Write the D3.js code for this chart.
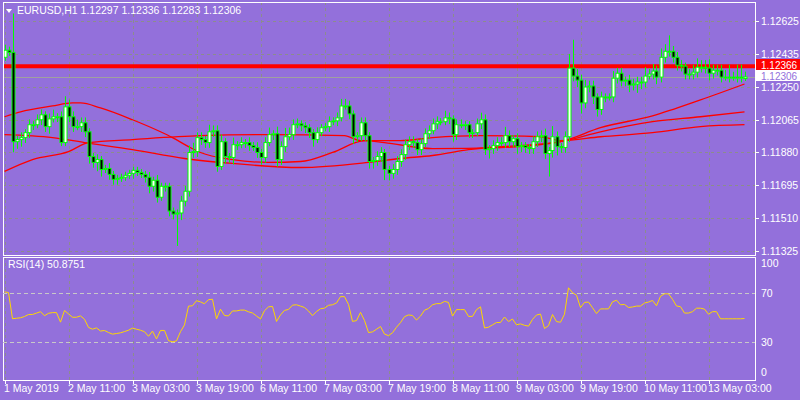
<!DOCTYPE html>
<html><head><meta charset="utf-8">
<script src="https://cdn.jsdelivr.net/npm/d3@7"></script>
<style>body{margin:0;background:#9370DB}svg{display:block}text{font-family:"Liberation Sans",Arial,sans-serif;font-size:10.5px;fill:#fff}</style>
</head><body><svg id="c" width="800" height="400"></svg>
<script>
const symbol = "EURUSD,H1";
const lastOHLC = [1.12297, 1.12336, 1.12283, 1.12306];
const firstOpen = 1.12417;
const closes = [
1.12457,1.12445,1.11940,1.11952,1.11963,1.11991,1.12036,1.12036,1.12064,1.12092,
1.12025,1.12069,1.12081,1.12081,1.11935,1.12137,1.12081,1.12025,1.12025,1.12047,
1.11996,1.11856,1.11823,1.11839,1.11783,1.11789,1.11755,1.11727,1.11733,1.11739,
1.11750,1.11761,1.11778,1.11766,1.11755,1.11739,1.11688,1.11722,1.11626,1.11688,
1.11688,1.11548,1.11531,1.11537,1.11604,1.11660,1.11879,1.11884,1.11963,1.11952,
1.11935,1.11996,1.12002,1.11800,1.11940,1.11856,1.11851,1.11923,1.11923,1.11935,
1.11935,1.11918,1.11907,1.11879,1.11851,1.11935,1.11980,1.11985,1.11839,1.11912,
1.11968,1.11980,1.12036,1.12041,1.12030,1.12019,1.11991,1.11952,1.11991,1.12019,
1.12025,1.12053,1.12058,1.12075,1.12142,1.12142,1.12097,1.11968,1.11974,1.12047,
1.11974,1.11828,1.11834,1.11856,1.11879,1.11783,1.11761,1.11783,1.11828,1.11867,
1.11923,1.11940,1.11935,1.11895,1.11929,1.11985,1.12002,1.12041,1.12053,1.12053,
1.12075,1.12069,1.11980,1.12036,1.12036,1.12036,1.11991,1.11991,1.12041,1.12064,
1.11895,1.11901,1.11918,1.11935,1.11935,1.11974,1.11940,1.11957,1.11912,1.11918,
1.11907,1.11901,1.11940,1.11968,1.11974,1.11873,1.11890,1.11968,1.11912,1.11907,
1.11968,1.12356,1.12311,1.12288,1.12159,1.12249,1.12255,1.12193,1.12122,1.12193,
1.12193,1.12193,1.12299,1.12327,1.12283,1.12288,1.12260,1.12266,1.12277,1.12277,
1.12311,1.12322,1.12339,1.12305,1.12417,1.12451,1.12451,1.12417,1.12372,1.12367,
1.12322,1.12322,1.12333,1.12361,1.12361,1.12356,1.12327,1.12344,1.12344,1.12305,
1.12305,1.12305,1.12305,1.12305,1.12305,1.12306];
const hiPips = [3,2,22,2,3,2,3,2,3,3, 2,3,4,2,3,6,4,3,4,3, 3,2,2,3,2,2,3,2,2,2, 2,2,2,2,2,2,3,2,3,2,
2,2,2,2,3,3,4,5,3,3, 2,4,3,3,4,2,2,4,2,3, 2,3,2,3,2,3,4,2,4,3, 5,4,3,3,2,2,2,2,3,2,
2,3,2,3,4,4,3,2,2,3, 3,2,2,3,3,2,2,3,3,3, 3,3,3,2,3,3,3,3,3,2, 4,3,2,3,3,2,2,2,3,4,
3,2,3,3,3,5,3,2,3,2, 2,2,3,3,3,4,2,6,3,2, 3,8,16,4,3,4,3,3,2,3, 2,2,4,3,3,2,3,3,3,3,
5,3,4,3,5,4,9,3,3,3, 2,3,4,5,4,4,5,3,3,3, 4,7,3,7,7,3];
const loPips = [2,2,6,4,4,3,3,3,2,3, 3,4,2,3,2,2,3,3,2,3, 3,4,3,5,4,2,3,3,3,2, 2,2,3,2,2,3,4,3,3,2,
3,3,3,18,4,3,3,3,3,3, 3,3,3,3,2,4,3,4,3,2, 3,3,2,3,4,3,2,3,4,3, 3,2,3,2,3,3,3,4,2,2,
2,3,2,3,2,2,3,4,3,3, 3,4,4,3,3,6,4,3,3,3, 3,3,3,3,3,2,3,2,3,2, 2,3,4,3,2,3,3,3,2,3,
3,5,3,3,2,3,3,3,4,3, 3,3,3,3,3,3,13,4,5,3, 3,3,3,4,6,3,3,4,4,3, 3,2,3,3,3,3,4,3,5,4,
3,2,3,4,3,3,3,3,3,3, 3,3,3,3,3,3,4,3,3,3, 2,3,2,3,3,2];
const maFast = [[0,1.12081],[4,1.12109],[12,1.12142],[17,1.12159],[19,1.12159],[24,1.12131],[32,1.12064],[39,1.11996],[42,1.11963],[46,1.11912],[49,1.11879],[57,1.11839],[66,1.11823],[74,1.11828],[82,1.11879],[90,1.11946],[95,1.11935],[107,1.11901],[124,1.11907],[139,1.11940],[149,1.12019],[162,1.12086],[174,1.12176],[185,1.12266]];
const maSlow = [[0,1.11772],[7,1.11839],[16,1.11884],[21,1.11935],[32,1.11952],[49,1.11974],[66,1.11980],[85,1.11974],[89,1.11946],[99,1.11946],[107,1.11963],[119,1.11974],[134,1.11968],[139,1.11946],[149,1.11968],[162,1.11991],[174,1.12025],[185,1.12036]];
const maMid = [[0,1.11980],[12,1.11963],[20,1.11935],[32,1.11895],[45,1.11845],[57,1.11817],[74,1.11794],[91,1.11823],[99,1.11845],[107,1.11862],[116,1.11895],[139,1.11940],[149,1.11996],[162,1.12053],[174,1.12081],[185,1.12109]];
const priceTicks = [1.12625,1.12435,1.12250,1.12065,1.11880,1.11695,1.11510,1.11325];
const levelPrice = 1.12366;
const timeLabels = ["1 May 2019","2 May 11:00","3 May 03:00","3 May 19:00","6 May 11:00","7 May 03:00","7 May 19:00","8 May 11:00","9 May 03:00","9 May 19:00","10 May 11:00","13 May 03:00"];
const timeLabelStep = 16;
const rsiLevels = [70,30];
const rsiTicks = [100,70,30,0];
const rsiTitle = "RSI(14) 50.8751";

const N = closes.length, pip = 0.0001;
const bars = closes.map((c,i)=>{
  let o = i===0 ? firstOpen : closes[i-1];
  if(i===N-1){o=lastOHLC[0];}
  let h = Math.max(o,c)+hiPips[i]*pip, l = Math.min(o,c)-loPips[i]*pip;
  if(i===N-1){h=lastOHLC[1];l=lastOHLC[2];}
  return {i,o,h,l,c};
});
const rsi=[]; let ag=0.0007, al=0.0003;
bars.forEach((b,i)=>{const ch=i?b.c-bars[i-1].c:b.c-b.o; const g=Math.max(ch,0),ls=Math.max(-ch,0);
  ag=(ag*13+g)/14; al=(al*13+ls)/14; rsi.push(100-100/(1+ag/al));});

const svg=d3.select("#c");
const L=3,R=755,T=2,B=255,RT=257,RB=380;
const x=d3.scaleLinear().domain([0,N-1]).range([4.5,744.5]);
const y=d3.scaleLinear().domain([1.11325,1.12625]).range([250.5,20.5]);
const yr=d3.scaleLinear().domain([0,100]).range([379,256]);
const grid="#8c8c8c";
svg.append("rect").attr("width",800).attr("height",400).attr("fill","#9370DB");
const gx=d3.range(0,N,timeLabelStep);
svg.append("g").selectAll("line").data(gx).join("line").attr("x1",d=>Math.round(x(d))+.5).attr("x2",d=>Math.round(x(d))+.5)
 .attr("y1",T).attr("y2",B).attr("stroke",grid).attr("stroke-dasharray","3,3");
svg.append("g").selectAll("line").data(gx).join("line").attr("x1",d=>Math.round(x(d))+.5).attr("x2",d=>Math.round(x(d))+.5)
 .attr("y1",RT).attr("y2",RB).attr("stroke",grid).attr("stroke-dasharray","3,3");
svg.append("g").selectAll("line").data(priceTicks).join("line").attr("x1",L).attr("x2",R).attr("y1",d=>Math.round(y(d))+.5).attr("y2",d=>Math.round(y(d))+.5)
 .attr("stroke",grid).attr("stroke-dasharray","3,3");
svg.append("line").attr("x1",L).attr("x2",R).attr("y1",y(levelPrice)).attr("y2",y(levelPrice)).attr("stroke","#ff0000").attr("stroke-width",4);
svg.append("line").attr("x1",L).attr("x2",R).attr("y1",Math.round(y(lastOHLC[3]))+.5).attr("y2",Math.round(y(lastOHLC[3]))+.5).attr("stroke","#a0a0a0").attr("stroke-width",1);
const ln=d3.line().x(d=>x(d[0])).y(d=>y(d[1])).curve(d3.curveMonotoneX);
[maFast,maSlow,maMid].forEach(m=>svg.append("path").attr("d",ln(m)).attr("fill","none").attr("stroke","#ff0000").attr("stroke-width",1.3));
const g=svg.append("g");
g.selectAll("line").data(bars).join("line").attr("x1",d=>Math.round(x(d.i))+.5).attr("x2",d=>Math.round(x(d.i))+.5)
 .attr("y1",d=>y(d.h)).attr("y2",d=>y(d.l)).attr("stroke","#00ff00");
g.selectAll("rect").data(bars).join("rect").attr("x",d=>Math.round(x(d.i))-1).attr("width",3)
 .attr("y",d=>Math.min(y(d.o),y(d.c))).attr("height",d=>Math.max(1,Math.abs(y(d.o)-y(d.c))))
 .attr("fill",d=>d.c>=d.o?"#ffffff":"#000000").attr("stroke","#00ff00").attr("stroke-width",1);
svg.append("rect").attr("x",L+.5).attr("y",T+.5).attr("width",R-L).attr("height",B-T).attr("fill","none").attr("stroke","#fff");
svg.append("rect").attr("x",L+.5).attr("y",RT+.5).attr("width",R-L).attr("height",RB-RT).attr("fill","none").attr("stroke","#fff");
svg.append("g").selectAll("text").data(priceTicks).join("text").attr("x",761).attr("y",d=>y(d)+4).text(d=>d.toFixed(5));
svg.append("g").selectAll("line").data(priceTicks).join("line").attr("x1",R).attr("x2",R+4).attr("y1",d=>Math.round(y(d))+.5).attr("y2",d=>Math.round(y(d))+.5).attr("stroke","#fff");
svg.append("rect").attr("x",R+1).attr("y",59).attr("width",44).attr("height",11).attr("fill","#ff0000");
svg.append("text").attr("x",761).attr("y",68.5).style("font-size","10px").text(levelPrice.toFixed(5));
svg.append("rect").attr("x",R+1).attr("y",70).attr("width",44).attr("height",11).attr("fill","#ffffff");
svg.append("text").attr("x",761).attr("y",79.5).style("font-size","10px").attr("style","fill:#9370DB;font-size:10px").text(lastOHLC[3].toFixed(5));
svg.append("path").attr("d","M6,9L12,9L9,13Z").attr("fill","#fff");
svg.append("text").attr("x",17).attr("y",14).text(symbol+"  "+lastOHLC.map(v=>v.toFixed(5)).join(" "));
svg.append("g").selectAll("line").data(rsiLevels).join("line").attr("x1",L).attr("x2",R).attr("y1",d=>Math.round(yr(d))+.5).attr("y2",d=>Math.round(yr(d))+.5)
 .attr("stroke","#c8c8c8").attr("stroke-dasharray","4,3");
svg.append("path").attr("d",d3.line().x((d,i)=>x(i)).y(d=>yr(d))(rsi)).attr("fill","none").attr("stroke","#ffd700").attr("stroke-width",1);
svg.append("text").attr("x",8).attr("y",268).text(rsiTitle);
svg.append("g").selectAll("text").data(rsiTicks).join("text").attr("x",761)
 .attr("y",d=>Math.min(Math.max(yr(d)+4,267),376)).text(d=>d);
svg.append("g").selectAll("line").data(gx).join("line").attr("x1",d=>Math.round(x(d))+.5).attr("x2",d=>Math.round(x(d))+.5).attr("y1",RB).attr("y2",RB+4).attr("stroke","#fff");
svg.append("g").selectAll("text").data(gx).join("text").attr("x",d=>Math.round(x(d))-1).attr("y",392).text((d,i)=>timeLabels[i]);
</script></body></html>
